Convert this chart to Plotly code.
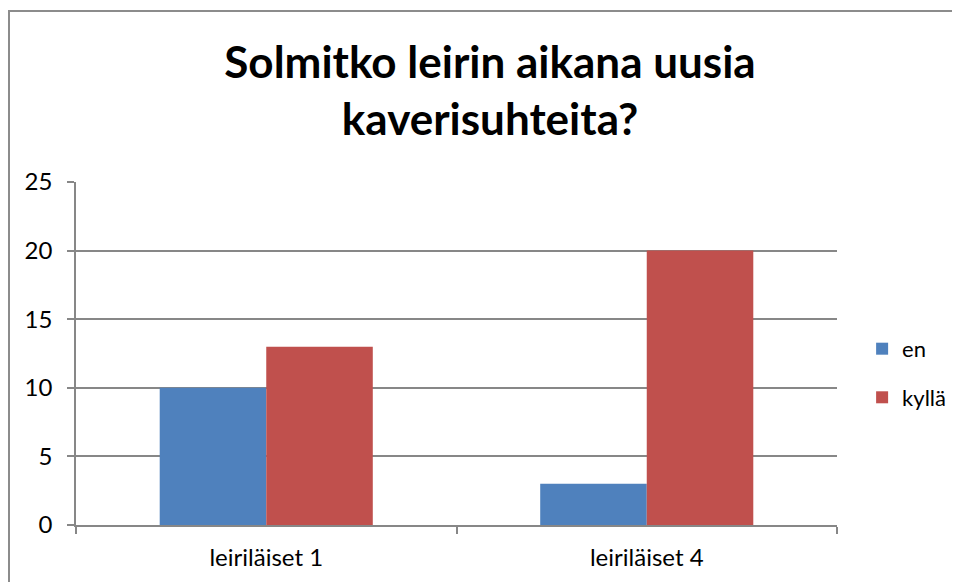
import plotly.graph_objects as go

categories = ["leiriläiset 1", "leiriläiset 4"]
series_names = ["en", "kyllä"]
en_values = [10, 3]
kylla_values = [13, 20]
y_ticks = [0, 5, 10, 15, 20, 25]

colors = {"en": "#4F81BD", "kyllä": "#C0504D"}
FONT = "Lato, Open Sans, sans-serif"

fig = go.Figure()
for name, vals in zip(series_names, [en_values, kylla_values]):
    fig.add_trace(go.Bar(
        x=categories, y=vals, name=name, legendgroup=name,
        marker=dict(color=colors[name], line=dict(width=0)),
    ))

# page body has an 8px margin; figure is laid out in its own coords
W, H = 952, 574
L, R, T, B = 68, 123, 174, 57
PW, PH = W - L - R, H - T - B

fig.update_layout(
    width=W, height=H,
    margin=dict(l=L, r=R, t=T, b=B, autoexpand=False),
    paper_bgcolor="white", plot_bgcolor="white",
    barmode="group", bargap=0.44, bargroupgap=0,
    font=dict(family=FONT, size=24, color="black"),
    title=dict(
        text="<b>Solmitko leirin aikana uusia<br>kaverisuhteita?</b>",
        x=482 / W, xref="container", xanchor="center",
        y=1 - 70 / H, yref="container", yanchor="middle",
        font=dict(family=FONT, size=44, color="black"),
    ),
    showlegend=True,
    legend=dict(
        x=1.033, xanchor="left", y=0.442, yanchor="middle",
        traceorder="grouped", tracegroupgap=17,
        font=dict(family=FONT, size=22, color="black"),
        itemwidth=30, bgcolor="rgba(0,0,0,0)",
    ),
    xaxis=dict(
        showline=True, linecolor="#878787", linewidth=1.5,
        ticks="outside", tickson="boundaries", ticklen=7,
        tickcolor="#878787", tickwidth=1.5,
        showgrid=False, ticklabelstandoff=10,
        tickfont=dict(size=24),
    ),
    yaxis=dict(
        range=[0, 25], tickvals=y_ticks,
        showline=True, linecolor="#878787", linewidth=1.5,
        ticks="outside", ticklen=7, tickcolor="#878787", tickwidth=1.5,
        showgrid=True, gridcolor="#878787", gridwidth=1.5,
        zeroline=False, ticklabelstandoff=10,
        tickfont=dict(size=24),
    ),
)

# outer chart border (top and left visible)
fig.add_shape(
    type="rect", xref="paper", yref="paper",
    x0=(1 - L) / PW, x1=(W + 20 - L) / PW,
    y0=-(B + 20) / PH, y1=1 + (T - 3) / PH,
    line=dict(color="#8c8c8c", width=2), fillcolor="rgba(0,0,0,0)",
    layer="below",
)

fig.write_html("out.html")
